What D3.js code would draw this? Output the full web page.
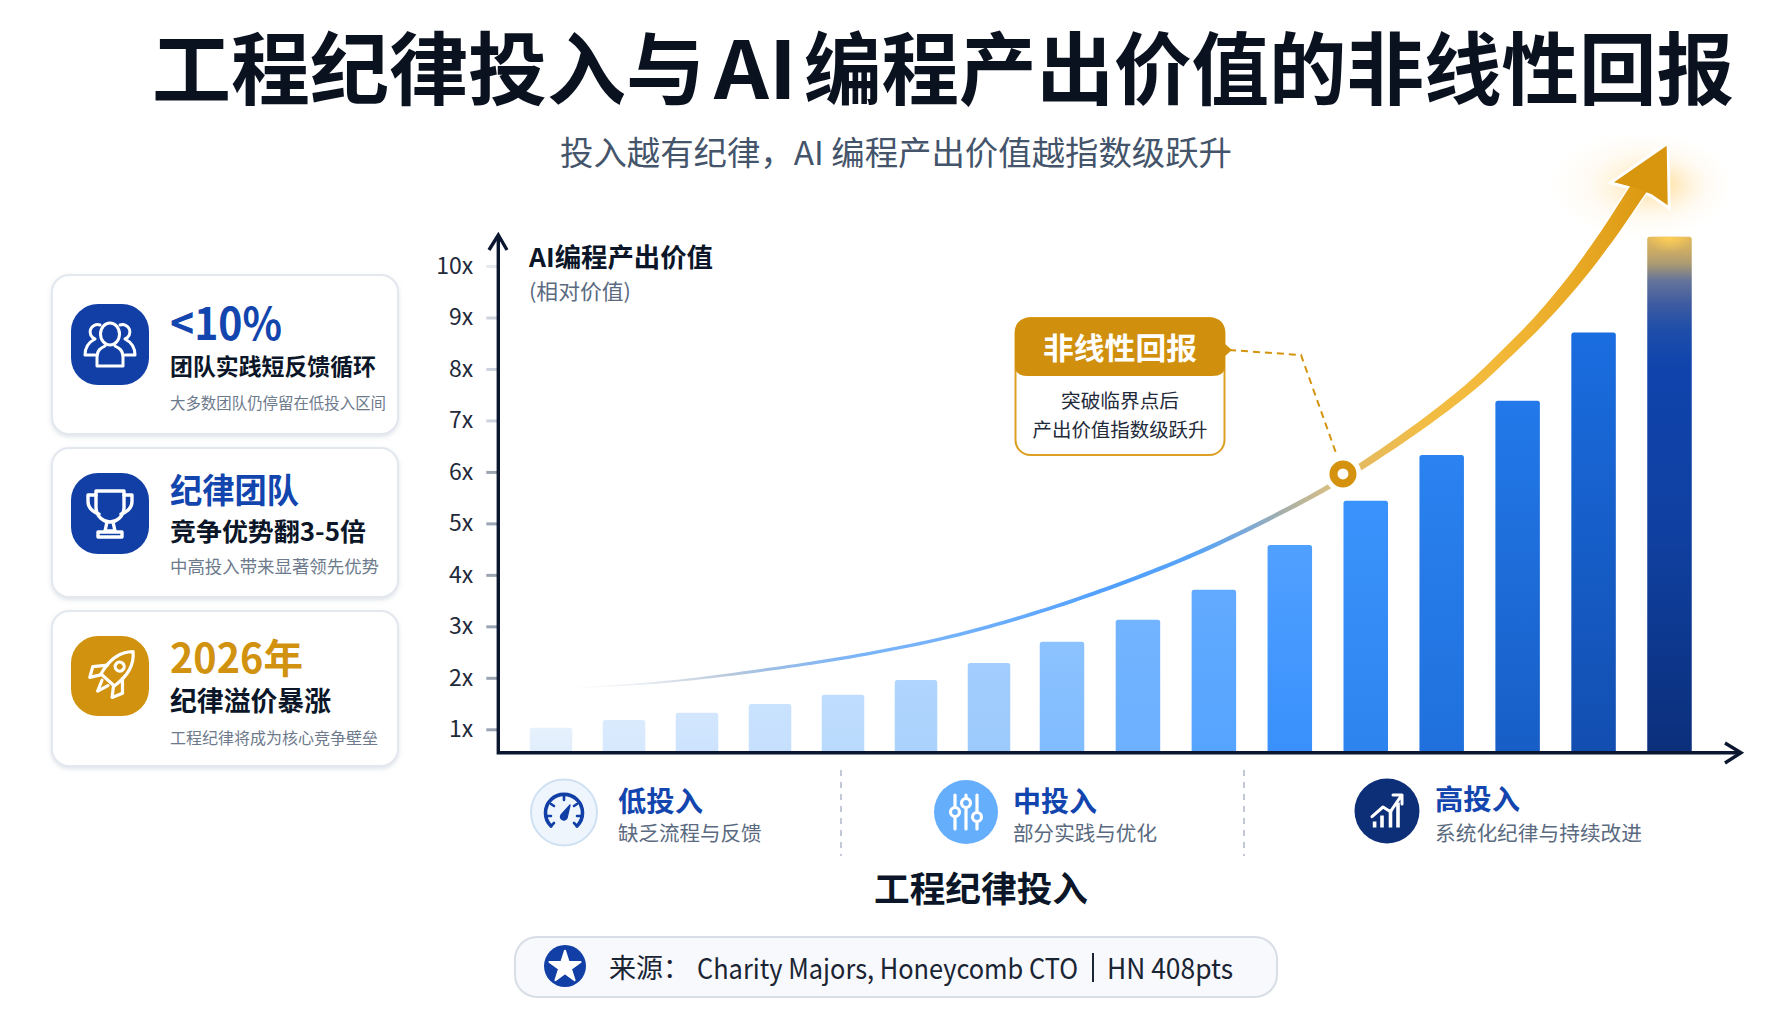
<!DOCTYPE html>
<html lang="zh"><head><meta charset="utf-8">
<script src="https://cdn.jsdelivr.net/npm/d3@7"></script>
<style>
html,body{margin:0;padding:0;background:#fff;overflow:hidden}
svg{display:block}
text{font-family:"Noto Sans CJK SC","Noto Sans",sans-serif}
</style></head><body>
<svg id="c" width="1792" height="1024"></svg>
<script>
// ---- data ----
const barValues = [1.03,1.18,1.32,1.49,1.67,1.96,2.29,2.70,3.13,3.71,4.58,5.44,6.33,7.38,8.71,10.57];
const yTicks = [1,2,3,4,5,6,7,8,9,10];
const curveIndex = [0.26,1.49,2.86,4.23,5.47,6.61,7.72,8.82,9.91,10.51,10.70,10.93,11.76,12.41,12.85,13.29,13.73,14.17,14.61,14.81];
const curveValue = [1.80,1.91,2.14,2.44,2.80,3.25,3.80,4.45,5.23,5.71,5.90,6.10,6.94,7.69,8.30,8.95,9.70,10.57,11.54,11.96];
const inflectionIndex = 10.70, inflectionValue = 5.96;
const cardHeads = ["<10%","纪律团队","2026年"];
const cardMids = ["团队实践短反馈循环","竞争优势翻3-5倍","纪律溢价暴涨"];
const cardSubs = ["大多数团队仍停留在低投入区间","中高投入带来显著领先优势","工程纪律将成为核心竞争壁垒"];
const tierHeads = ["低投入","中投入","高投入"];
const tierSubs = ["缺乏流程与反馈","部分实践与优化","系统化纪律与持续改进"];
const barTopColors = ["#e6f1fd","#dbebfe","#d2e6fe","#c9e2fe","#bfddfe","#b0d5fe","#a2cdfe","#8cc2ff","#72b4ff","#62aaff","#50a0ff","#3a93fc","#2b82f0","#2379ea","#1a6de0","#0f3b98"];
const barBottomColors = ["#e0edfc","#d6e8fd","#cde3fd","#c5dffd","#b9dafd","#aad2fc","#9ccafc","#80bcff","#6cb0ff","#55a4ff","#3990fc","#2e84ef","#1f70dc","#175ec6","#124eb0","#0b2f7a"];

// ---- scales ----
const x = d3.scaleLinear().domain([0,7,15]).range([551,1062,1669.5]);
const bw = d3.scaleLinear().domain([0,6,7,15]).range([42.5,42.5,44.5,44.5]);
const y = d3.scaleLinear().domain([1,10]).range([729.3,266]);
const baseY = 752.7, axisX = 498.3;

const svg = d3.select("#c");
svg.append("rect").attr("width",1792).attr("height",1024).attr("fill","#fff");
const defs = svg.append("defs");
const NAVY = "#0b1628", BLUE="#1245ae", GOLD="#d0920f", GREY="#5a6a80";

function T(g,px,py,s,o={}){
  const size=o.size||20;
  const t=g.append("text").attr("x",px).attr("y",py-size*0.08).attr("dominant-baseline","central")
    .attr("font-size",size).attr("font-weight",o.weight||400).attr("fill",o.fill||NAVY)
    .attr("text-anchor",o.anchor||"start").text(s);
  if(o.w) t.attr("textLength",o.w).attr("lengthAdjust","spacingAndGlyphs");
  return t;
}

// title
T(svg,152,71,"工程纪律投入与",{size:79,weight:700,fill:"#0a1220",w:553});
T(svg,714,71,"AI",{size:79,weight:700,fill:"#0a1220",w:83});
T(svg,804,71,"编程产出价值的非线性回报",{size:79,weight:700,fill:"#0a1220",w:930});
T(svg,560,154,"投入越有纪律，AI 编程产出价值越指数级跃升",{size:33,fill:"#44546a",w:672});

// cards
const shadow = defs.append("filter").attr("id","sh").attr("x","-10%").attr("y","-10%").attr("width","120%").attr("height","125%");
shadow.append("feDropShadow").attr("dx",0).attr("dy",2).attr("stdDeviation",2).attr("flood-color","#94a3b8").attr("flood-opacity",.3);
const cardY=[[275,434],[448,597],[611,766]], iconY=[304,473,636];
const headFill=[BLUE,BLUE,GOLD], iconFill=["#123fa5","#123fa5","#d0920f"];
const headCfg=[{y:325,size:44,w:112},{y:491,size:34,w:129},{y:659,size:40,w:133}];
const midCfg=[{y:367,size:23,w:206},{y:532,size:25,w:196},{y:702,size:27,w:161}];
const subCfg=[{y:403,size:15.5,w:216},{y:567,size:17.4,w:209},{y:738,size:16,w:208}];
const cards=svg.append("g");
cardHeads.forEach((h,i)=>{
  const g=cards.append("g");
  g.append("rect").attr("x",52).attr("y",cardY[i][0]).attr("width",346).attr("height",cardY[i][1]-cardY[i][0])
    .attr("rx",17).attr("fill","#fff").attr("stroke","#e3e7ee").attr("stroke-width",2).attr("filter","url(#sh)");
  g.append("rect").attr("x",71).attr("y",iconY[i]).attr("width",78).attr("height",i==2?80:81).attr("rx",27).attr("fill",iconFill[i]);
  T(g,170,headCfg[i].y,h,{size:headCfg[i].size,weight:700,fill:headFill[i],w:headCfg[i].w});
  T(g,170,midCfg[i].y,cardMids[i],{size:midCfg[i].size,weight:700,w:midCfg[i].w});
  T(g,170,subCfg[i].y,cardSubs[i],{size:subCfg[i].size,fill:"#6d7a8c",w:subCfg[i].w});
});
function icon(cx,cy,color,sw){return svg.append("g").attr("transform",`translate(${cx},${cy})`).attr("fill","none").attr("stroke",color).attr("stroke-width",sw).attr("stroke-linecap","round").attr("stroke-linejoin","round");}
// people
let ic=icon(110,345,"#fff",3);
ic.append("ellipse").attr("cy",-11).attr("rx",9.5).attr("ry",11);
ic.append("path").attr("d","M-13 21V12C-13 5-9 3-5 1M13 21V12C13 5 9 3 5 1M-13 21H13");
ic.append("path").attr("d","M-10 -20A6.5 6.5 0 0 0-15 -6C-21 -3-25 2-25 10H-15M10 -20A6.5 6.5 0 0 1 15 -6C21 -3 25 2 25 10H15");
// trophy
ic=icon(110,514,"#fff",3.4);
ic.append("path").attr("d","M-14 -23H14V-7C14 3 6 8 0 8C-6 8-14 3-14 -7Z");
ic.append("path").attr("d","M-14 -19H-22V-13C-22 -6-17 -2-11 0M14 -19H22V-13C22 -6 17 -2 11 0");
ic.append("path").attr("d","M-3 8L-5 17H5L3 8M-12 23H12V18H-12Z");
// rocket
ic=icon(110,676,"#fff",3.2).attr("transform","translate(113,674) rotate(42)");
ic.append("path").attr("d","M0 -30C11 -20 12 -6 9 8H-9C-12 -6-11 -20 0 -30Z");
ic.append("circle").attr("cy",-10).attr("r",4.5);
ic.append("path").attr("d","M-10 -3L-20 8L-15 18L-8 8M10 -3L20 8L15 18L8 8M-4 12L0 23L4 12");

// y axis
const yAxis=svg.append("g").attr("transform",`translate(${axisX-1},0)`).call(
  d3.axisLeft(y).tickValues(yTicks).tickFormat(d=>d+"x").tickSize(11).tickPadding(13));
yAxis.select(".domain").remove();
yAxis.selectAll(".tick text").attr("font-size",23).attr("fill","#1f2a3a").attr("font-family",null).style("font-family",'"Noto Sans CJK SC"');
yAxis.selectAll(".tick line").attr("stroke-width",3).attr("stroke",d=>d==10?"#e6eaf0":d>=7?"#cdd3dd":"#9aa4b3");

// bars
const grads=defs.selectAll(".bg").data(barValues).join("linearGradient").attr("id",(d,i)=>"bar"+i).attr("x1",0).attr("x2",0).attr("y1",0).attr("y2",1);
grads.each(function(d,i){
  const g=d3.select(this);
  if(i===15){
    [[0,"#e0b75c"],[.03,"#c9aa66"],[.053,"#ab9a72"],[.085,"#65749a"],[.13,"#3f5ba0"],[.18,"#1e4ea9"],[.25,"#1044ad"],[.6,"#0f3f9f"],[1,barBottomColors[15]]]
      .forEach(s=>g.append("stop").attr("offset",s[0]).attr("stop-color",s[1]));
  } else {
    g.append("stop").attr("offset",0).attr("stop-color",barTopColors[i]);
    g.append("stop").attr("offset",1).attr("stop-color",barBottomColors[i]);
  }
});
const barPath=(d,i)=>{
  const w=bw(i),l=x(i)-w/2,t=y(d),r=2.5;
  return `M${l} ${baseY}V${t+r}Q${l} ${t} ${l+r} ${t}H${l+w-r}Q${l+w} ${t} ${l+w} ${t+r}V${baseY}Z`;
};
svg.append("g").selectAll("path").data(barValues).join("path")
  .attr("fill",(d,i)=>`url(#bar${i})`).attr("d",barPath);
// highlight at top of the last bar
const topGlow=defs.append("radialGradient").attr("id","topGlow");
[[0,"#ffd056",1],[1,"#ffd056",0]].forEach(s=>topGlow.append("stop").attr("offset",s[0]).attr("stop-color",s[1]).attr("stop-opacity",s[2]));
const lastX=x(15), lastT=y(barValues[15]);
defs.append("clipPath").attr("id","lastClip").append("path").attr("d",barPath(barValues[15],15));
svg.append("ellipse").attr("clip-path","url(#lastClip)").attr("cx",lastX).attr("cy",lastT).attr("rx",24).attr("ry",16).attr("fill","url(#topGlow)");

// glow
const glow=defs.append("radialGradient").attr("id","glow").attr("fx",.6).attr("fy",.5);
[[0,"#ffc94f",.6],[.3,"#ffd27a",.38],[.65,"#ffe2a8",.13],[1,"#ffe7b8",0]].forEach(s=>glow.append("stop").attr("offset",s[0]).attr("stop-color",s[1]).attr("stop-opacity",s[2]));
svg.append("ellipse").attr("cx",1641).attr("cy",185).attr("rx",92).attr("ry",54).attr("fill","url(#glow)");

// curve (tapered band)
const curvePts=curveIndex.map((c,i)=>[x(c),y(curveValue[i])]);
const line=d3.line().curve(d3.curveCatmullRom.alpha(.5));
const hidden=svg.append("path").attr("d",line(curvePts)).attr("fill","none").node();
const L=hidden.getTotalLength();
hidden.remove();
const widthAt=d3.scaleLinear().domain([570,760,950,1117,1283,1328,1360,1423,1540,1640,1660]).range([1,3,3.5,4,4.5,5,7,8.5,11.5,17,19]);
const upper=[],lower=[];
d3.range(0,161).forEach(k=>{
  const t=k/160,l=t*L,p=hidden.getPointAtLength(l),q=hidden.getPointAtLength(Math.min(L,l+1)),o=hidden.getPointAtLength(Math.max(0,l-1));
  const dx=q.x-o.x,dy=q.y-o.y,m=Math.hypot(dx,dy),w=widthAt(p.x)/2;
  upper.push([p.x-dy/m*w,p.y+dx/m*w]); lower.push([p.x+dy/m*w,p.y-dx/m*w]);
});
const bandLine=d3.line();
const band=bandLine(upper.concat(lower.slice().reverse()))+"Z";
const headBand=bandLine(upper.slice(130).concat(lower.slice(130).reverse()))+"Z";
const cg=defs.append("linearGradient").attr("id","cg").attr("gradientUnits","userSpaceOnUse").attr("x1",570).attr("x2",1660).attr("y1",0).attr("y2",0);
[[570,"#e8ecf2",0],[660,"#dfe5ed",1],[730,"#b8c8dc",1],[780,"#96bce8",1],[860,"#7ab4f8",1],[950,"#74b2fb",1],[1117,"#4f9fff",1],[1200,"#58a4f5",1],[1250,"#7fa9d5",1],[1283,"#a6afa9",1],[1328,"#d5bd85",1],[1360,"#e5bb60",1],[1423,"#f2bd45",1],[1500,"#f3b838",1],[1600,"#e5a41f",1],[1660,"#d8960e",1]]
  .forEach(s=>cg.append("stop").attr("offset",(s[0]-570)/1090).attr("stop-color",s[1]).attr("stop-opacity",s[2]));
const head="M1666.7 145.7L1614 182.3L1633.3 187.3L1651.7 194.3L1667.7 205.3Z";
svg.append("path").attr("d",head).attr("fill","#fff").attr("stroke","#fff").attr("stroke-width",6).attr("stroke-linejoin","miter");
svg.append("path").attr("d",headBand).attr("fill","#fff").attr("stroke","#fff").attr("stroke-width",3);
svg.append("path").attr("d",band).attr("fill","url(#cg)");
svg.append("path").attr("d",head).attr("fill","#d8960e");

// axes
const ax=svg.append("g").attr("fill","none").attr("stroke","#0b1630").attr("stroke-width",3.4);
ax.append("path").attr("d",`M${axisX} 236V${baseY}H1740`);
ax.append("path").attr("d",`M489 250L${axisX} 235L507 250M1725 743L1741 ${baseY}L1725 763`).attr("stroke-linejoin","miter");

// axis titles
T(svg,529,258,"AI编程产出价值",{size:26,weight:700,w:184});
T(svg,529,292,"(相对价值)",{size:21,fill:GREY,w:102});

// callout
const co=svg.append("g");
svg.append("path").attr("d","M1229 350L1301 355L1336 453").attr("fill","none").attr("stroke","#d4940f").attr("stroke-width",2).attr("stroke-dasharray","7 5");
co.append("rect").attr("x",1015.5).attr("y",318).attr("width",209).attr("height",137).attr("rx",15).attr("fill","#fff").attr("stroke","#dd9f22").attr("stroke-width",2);
co.append("path").attr("d","M1030 318H1210Q1225 318 1225 333V344L1232 350L1225 356V366Q1225 376 1212 376H1028Q1015 376 1015 366V333Q1015 318 1030 318Z").attr("fill","#d0900e");
T(co,1120,348,"非线性回报",{size:30,weight:700,fill:"#fff",anchor:"middle",w:154});
T(co,1120,401,"突破临界点后",{size:19,anchor:"middle",fill:"#1f2a3a",w:118});
T(co,1120,430,"产出价值指数级跃升",{size:19,anchor:"middle",fill:"#1f2a3a",w:175});
// ring
const ringX=x(inflectionIndex), ringY=y(inflectionValue);
svg.append("circle").attr("cx",ringX).attr("cy",ringY).attr("r",18.5).attr("fill","#fff");
svg.append("circle").attr("cx",ringX).attr("cy",ringY).attr("r",9.5).attr("fill","#fff").attr("stroke","#d4920f").attr("stroke-width",8);

// tiers
const tierC=[[564,812.5,33,"#eef5fd","#cfe0f3"],[966,812,32,"#64aefc","none"],[1387,811,32.5,"#0d2f78","none"]];
const tierX=[618,1013,1435], tierW=[85,84,85], tierSubW=[143.5,144,207], tierHeadY=[802,802,800];
tierHeads.forEach((h,i)=>{
  const c=tierC[i];
  svg.append("circle").attr("cx",c[0]).attr("cy",c[1]).attr("r",c[2]).attr("fill",c[3]).attr("stroke",c[4]).attr("stroke-width",2);
  T(svg,tierX[i],tierHeadY[i],h,{size:28,weight:700,fill:BLUE,w:tierW[i]});
  T(svg,tierX[i],834,tierSubs[i],{size:20.5,fill:GREY,w:tierSubW[i]});
});
[841,1244].forEach(px=>svg.append("line").attr("x1",px).attr("x2",px).attr("y1",770).attr("y2",856).attr("stroke","#c2c9d4").attr("stroke-width",2).attr("stroke-dasharray","6 6"));
// gauge
ic=icon(564,812,"#123fa5",3.6);
ic.append("path").attr("d","M-13 14A18.5 18.5 0 1 1 13 14");
ic.append("path").attr("d","M0 -16V-12M-13 -8L-10 -6M13 -8L10 -6M-17 4H-13M17 4H13M-13 14L-10 11M13 14L10 11").attr("stroke-width",2.6);
ic.append("path").attr("d","M-3 3L6 -7L3 6A3 3 0 0 1-3 3Z").attr("fill","#123fa5").attr("stroke-width",1.4);
// sliders
ic=icon(966,812,"#fff",3.2);
[[-11,0],[0,-9],[11,5]].forEach(p=>{
  ic.append("path").attr("d",`M${p[0]} -17V${p[1]-4.5}M${p[0]} ${p[1]+4.5}V17`);
  ic.append("circle").attr("cx",p[0]).attr("cy",p[1]).attr("r",4.5);
});
// growth
ic=icon(1387,811,"#fff",3);
[[-12.4,6],[-5,12],[3.5,18],[11,25]].forEach(b=>ic.append("rect").attr("x",b[0]-1.8).attr("y",16.5-b[1]).attr("width",3.6).attr("height",b[1]).attr("fill","#fff").attr("stroke","none"));
ic.append("path").attr("d","M-15 5.7L-4 -4L3.5 .7L14 -15M6 -16H15V-7");

// x title
T(svg,981,889,"工程纪律投入",{size:35,weight:700,anchor:"middle",w:214});

// source pill
svg.append("rect").attr("x",515).attr("y",937).attr("width",762).attr("height",60).attr("rx",22).attr("fill","#f7f9fc").attr("stroke","#d8dde6").attr("stroke-width",2);
svg.append("circle").attr("cx",565).attr("cy",966).attr("r",21).attr("fill","#123fa5");
svg.append("path").attr("transform","translate(565,967)").attr("d",d3.symbol(d3.symbolStar,300)()).attr("fill","#fff").attr("stroke","#fff").attr("stroke-width",2).attr("stroke-linejoin","round");
T(svg,609,969,"来源：",{size:27,fill:"#1a2433"});
T(svg,697,969,"Charity Majors, Honeycomb CTO",{size:28,fill:"#1a2433",w:381});
svg.append("line").attr("x1",1093).attr("x2",1093).attr("y1",953).attr("y2",982).attr("stroke","#1a2433").attr("stroke-width",2);
T(svg,1107,969,"HN 408pts",{size:28,fill:"#1a2433",w:126});
</script>
</body></html>
